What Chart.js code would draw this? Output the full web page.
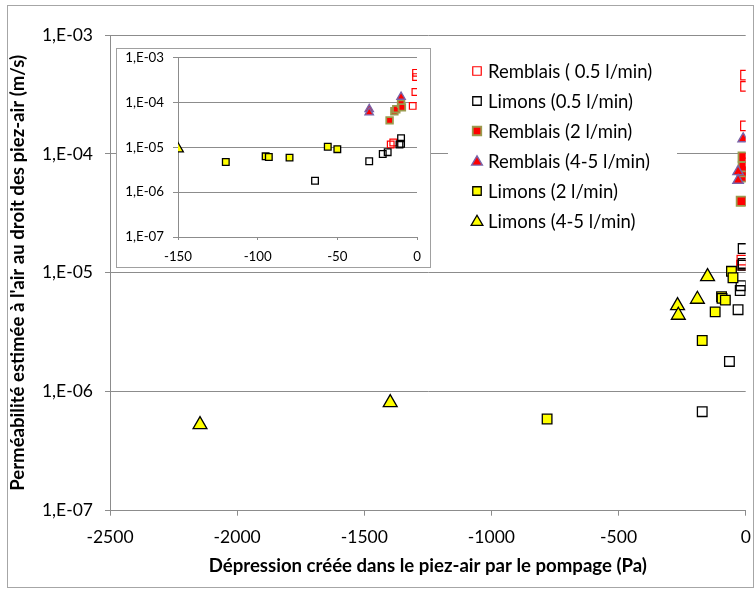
<!DOCTYPE html>
<html>
<head>
<meta charset="utf-8">
<script src="https://cdn.jsdelivr.net/npm/chart.js@4.4.1/dist/chart.umd.min.js"></script>
<style>
  html, body { margin: 0; padding: 0; background: #fff; }
  #wrap { position: relative; width: 755px; height: 590px; overflow: hidden; }
  #main { position: absolute; left: 0; top: 0; }
  #frame { position: absolute; left: 7px; top: 5px; width: 747px; height: 583px;
           border: 1px solid #a6a6a6; box-sizing: border-box; pointer-events: none; }
  #insetBox { position: absolute; left: 116px; top: 48px; width: 315px; height: 220px;
              border: 1px solid #a0a0a0; box-sizing: border-box; background: #fff; }
  #inset { display: block; }
</style>
</head>
<body>
<div id="wrap">
  <canvas id="main" width="755" height="590"></canvas>
  <div id="insetBox"><canvas id="inset" width="313" height="218"></canvas></div>
  <div id="frame"></div>
</div>
<script>
// Pressure drop in the piezometer (Pa) and estimated air permeability (m/s)
const seriesNames = [
  'Remblais ( 0.5 l/min)',
  'Limons (0.5 l/min)',
  'Remblais (2 l/min)',
  'Remblais (4-5 l/min)',
  'Limons (2 l/min)',
  'Limons (4-5 l/min)'
];

const remblais05X = [-0.6, -0.6, -1, -2.7, -16.5, -14.9];
const remblais05Y = [4.6e-4, 3.7e-4, 1.72e-4, 8.4e-5, 1.16e-5, 1.28e-5];

const limons05X = [-171, -64, -30, -21.5, -18.4, -11, -10, -10];
const limons05Y = [6.8e-7, 1.8e-6, 4.9e-6, 7.1e-6, 7.8e-6, 1.16e-5, 1.6e-5, 1.2e-5];

const remblais2X = [-17.2, -14.2, -13, -10, -9.5];
const remblais2Y = [4.0e-5, 6.4e-5, 7.1e-5, 9.4e-5, 7.8e-5];

const remblais45X = [-30, -30, -10];
const remblais45Y = [7.1e-5, 6.0e-5, 1.34e-4];

const limons2X = [-781, -171, -120, -95, -93, -80, -56, -50];
const limons2Y = [5.9e-7, 2.7e-6, 4.7e-6, 6.3e-6, 6.1e-6, 5.9e-6, 1.03e-5, 9.1e-6];

const limons45X = [-2146, -1398, -268, -265, -190, -150];
const limons45Y = [5.3e-7, 8.1e-7, 5.3e-6, 4.4e-6, 6.0e-6, 9.3e-6];

const seriesX = [remblais05X, limons05X, remblais2X, remblais45X, limons2X, limons45X];
const seriesY = [remblais05Y, limons05Y, remblais2Y, remblais45Y, limons2Y, limons45Y];

const yDecades = [1e-7, 1e-6, 1e-5, 1e-4, 1e-3];
const mainXTicks = [-2500, -2000, -1500, -1000, -500, 0];
const insetXTicks = [-150, -100, -50, 0];

// marker look of each series: shape, fill, outline, outline width, radius (main / inset / legend)
const markerStyles = [
  { shape: 'rect',     fill: 'rgba(0,0,0,0)', stroke: '#ff0000', bw: 1.2, rMain: 6.8, rInset: 4.7, rLegend: 6 },
  { shape: 'rect',     fill: 'rgba(0,0,0,0)', stroke: '#000000', bw: 1.3, rMain: 6.8, rInset: 4.7, rLegend: 6 },
  { shape: 'rect',     fill: '#ff0000',       stroke: '#9a9a4e', bw: 1.8, rMain: 6.6, rInset: 4.7, rLegend: 6 },
  { shape: 'triangle', fill: '#ff0000',       stroke: '#7a63a8', bw: 1.4, rMain: 6.0, rInset: 4.8, rLegend: 6.2 },
  { shape: 'rect',     fill: '#ffff00',       stroke: '#000000', bw: 1.3, rMain: 6.8, rInset: 4.7, rLegend: 6 },
  { shape: 'triangle', fill: '#ffff00',       stroke: '#000000', bw: 1.3, rMain: 8.0, rInset: 6.2, rLegend: 6.8 }
];

const FONT = 'Lato, "Open Sans", sans-serif';
const GRID = '#8c8c8c';

function sciLabel(v) {
  const e = Math.round(Math.log10(v));
  return '1,E' + (e < 0 ? '-' : '+') + String(Math.abs(e)).padStart(2, '0');
}

function buildDatasets(radiusKey) {
  return seriesNames.map((name, i) => {
    const st = markerStyles[i];
    return {
      label: name,
      data: seriesX[i].map((x, k) => ({ x: x, y: seriesY[i][k] })),
      pointStyle: st.shape,
      pointRadius: st[radiusKey],
      pointBackgroundColor: st.fill,
      pointBorderColor: st.stroke,
      pointBorderWidth: st.bw,
      showLine: false,
      order: seriesNames.length - i  // later series are painted above earlier ones
    };
  });
}

function decadeTicks(scale) {
  scale.ticks = yDecades.map(v => ({ value: v }));
}

// the plot area is set by the layout padding alone, not by tick label overhang
function noOverhang(scale) {
  scale.paddingLeft = 0;
  scale.paddingRight = 0;
  scale.paddingTop = 0;
  scale.paddingBottom = 0;
}

// legend box drawn over the main plot, to the right of the inset
const legendBox = {
  id: 'legendBox',
  afterDraw(chart) {
    const ctx = chart.ctx;
    ctx.save();
    ctx.fillStyle = '#ffffff';
    ctx.fillRect(448, 56, 229, 178);
    ctx.font = '18.5px ' + FONT;
    ctx.textBaseline = 'middle';
    ctx.textAlign = 'left';
    seriesNames.forEach((name, i) => {
      const st = markerStyles[i];
      const cx = 477, cy = 71 + i * 30;
      ctx.beginPath();
      const r = st.rLegend;
      if (st.shape === 'rect') {
        const h = r * Math.SQRT1_2;
        ctx.rect(cx - h, cy - h, 2 * h, 2 * h);
      } else {
        const yc = cy + 1;
        ctx.moveTo(cx, yc - r);
        ctx.lineTo(cx + r * Math.sqrt(3) / 2, yc + r / 2);
        ctx.lineTo(cx - r * Math.sqrt(3) / 2, yc + r / 2);
        ctx.closePath();
      }
      ctx.fillStyle = st.fill;
      ctx.fill();
      ctx.lineWidth = st.bw;
      ctx.strokeStyle = st.stroke;
      ctx.stroke();
      ctx.fillStyle = '#000';
      ctx.fillText(name, 488, cy + 1);
    });
    ctx.restore();
  }
};

const whiteBack = {
  id: 'whiteBack',
  beforeDraw(chart) {
    const ctx = chart.ctx;
    ctx.save();
    ctx.fillStyle = '#fff';
    ctx.fillRect(0, 0, chart.width, chart.height);
    ctx.restore();
  }
};

new Chart(document.getElementById('main'), {
  type: 'scatter',
  data: { datasets: buildDatasets('rMain') },
  options: {
    responsive: false,
    animation: false,
    devicePixelRatio: 1,
    layout: { padding: { left: 0, right: 7.5, top: 35, bottom: 0 } },
    plugins: { legend: { display: false }, tooltip: { enabled: false } },
    scales: {
      x: {
        type: 'linear',
        min: -2500, max: 0,
        afterBuildTicks: s => { s.ticks = mainXTicks.map(v => ({ value: v })); },
        ticks: { callback: v => String(v), font: { family: FONT, size: 17.5 }, color: '#000', padding: 11, maxRotation: 0 },
        grid: { drawOnChartArea: false, drawTicks: true, tickLength: 5, color: GRID },
        border: { display: true, color: GRID, width: 1 },
        title: {
          display: true,
          text: 'Dépression créée dans le piez-air par le pompage (Pa)',
          font: { family: FONT, size: 18.6, weight: 'bold' },
          color: '#000',
          padding: { top: 0, bottom: 13 }
        },
        afterFit: s => { s.height = 79.3; noOverhang(s); }
      },
      y: {
        type: 'logarithmic',
        min: 1e-7, max: 1e-3,
        afterBuildTicks: decadeTicks,
        ticks: { callback: v => sciLabel(v), font: { family: FONT, size: 17.5 }, color: '#000', padding: 12 },
        grid: { color: GRID, tickLength: 5, drawTicks: true },
        border: { display: true, color: GRID, width: 1 },
        title: {
          display: true,
          text: "Perméabilité estimée à l'air au droit des piez-air (m/s)",
          font: { family: FONT, size: 18.6, weight: 'bold' },
          color: '#000',
          padding: { top: 7, bottom: 0 }
        },
        afterFit: s => { s.width = 110; noOverhang(s); }
      }
    }
  },
  plugins: [whiteBack, legendBox]
});

// close-up of the lowest pressure drops
new Chart(document.getElementById('inset'), {
  type: 'scatter',
  data: { datasets: buildDatasets('rInset') },
  options: {
    responsive: false,
    animation: false,
    devicePixelRatio: 1,
    layout: { padding: { left: 0, right: 13, top: 8.7, bottom: 0 } },
    plugins: { legend: { display: false }, tooltip: { enabled: false } },
    scales: {
      x: {
        type: 'linear',
        min: -150, max: 0,
        afterBuildTicks: s => { s.ticks = insetXTicks.map(v => ({ value: v })); },
        ticks: { callback: v => String(v), font: { family: FONT, size: 13.3 }, color: '#000', padding: 9, maxRotation: 0 },
        grid: { drawOnChartArea: false, drawTicks: true, tickLength: 3, color: GRID },
        border: { display: true, color: GRID, width: 1 },
        afterFit: s => { s.height = 30; noOverhang(s); }
      },
      y: {
        type: 'logarithmic',
        min: 1e-7, max: 1e-3,
        afterBuildTicks: decadeTicks,
        ticks: { callback: v => sciLabel(v), font: { family: FONT, size: 13.3 }, color: '#000', padding: 9 },
        grid: { color: GRID, tickLength: 5, drawTicks: true },
        border: { display: true, color: GRID, width: 1 },
        afterFit: s => { s.width = 61; noOverhang(s); }
      }
    }
  },
  plugins: [whiteBack]
});
</script>
</body>
</html>
